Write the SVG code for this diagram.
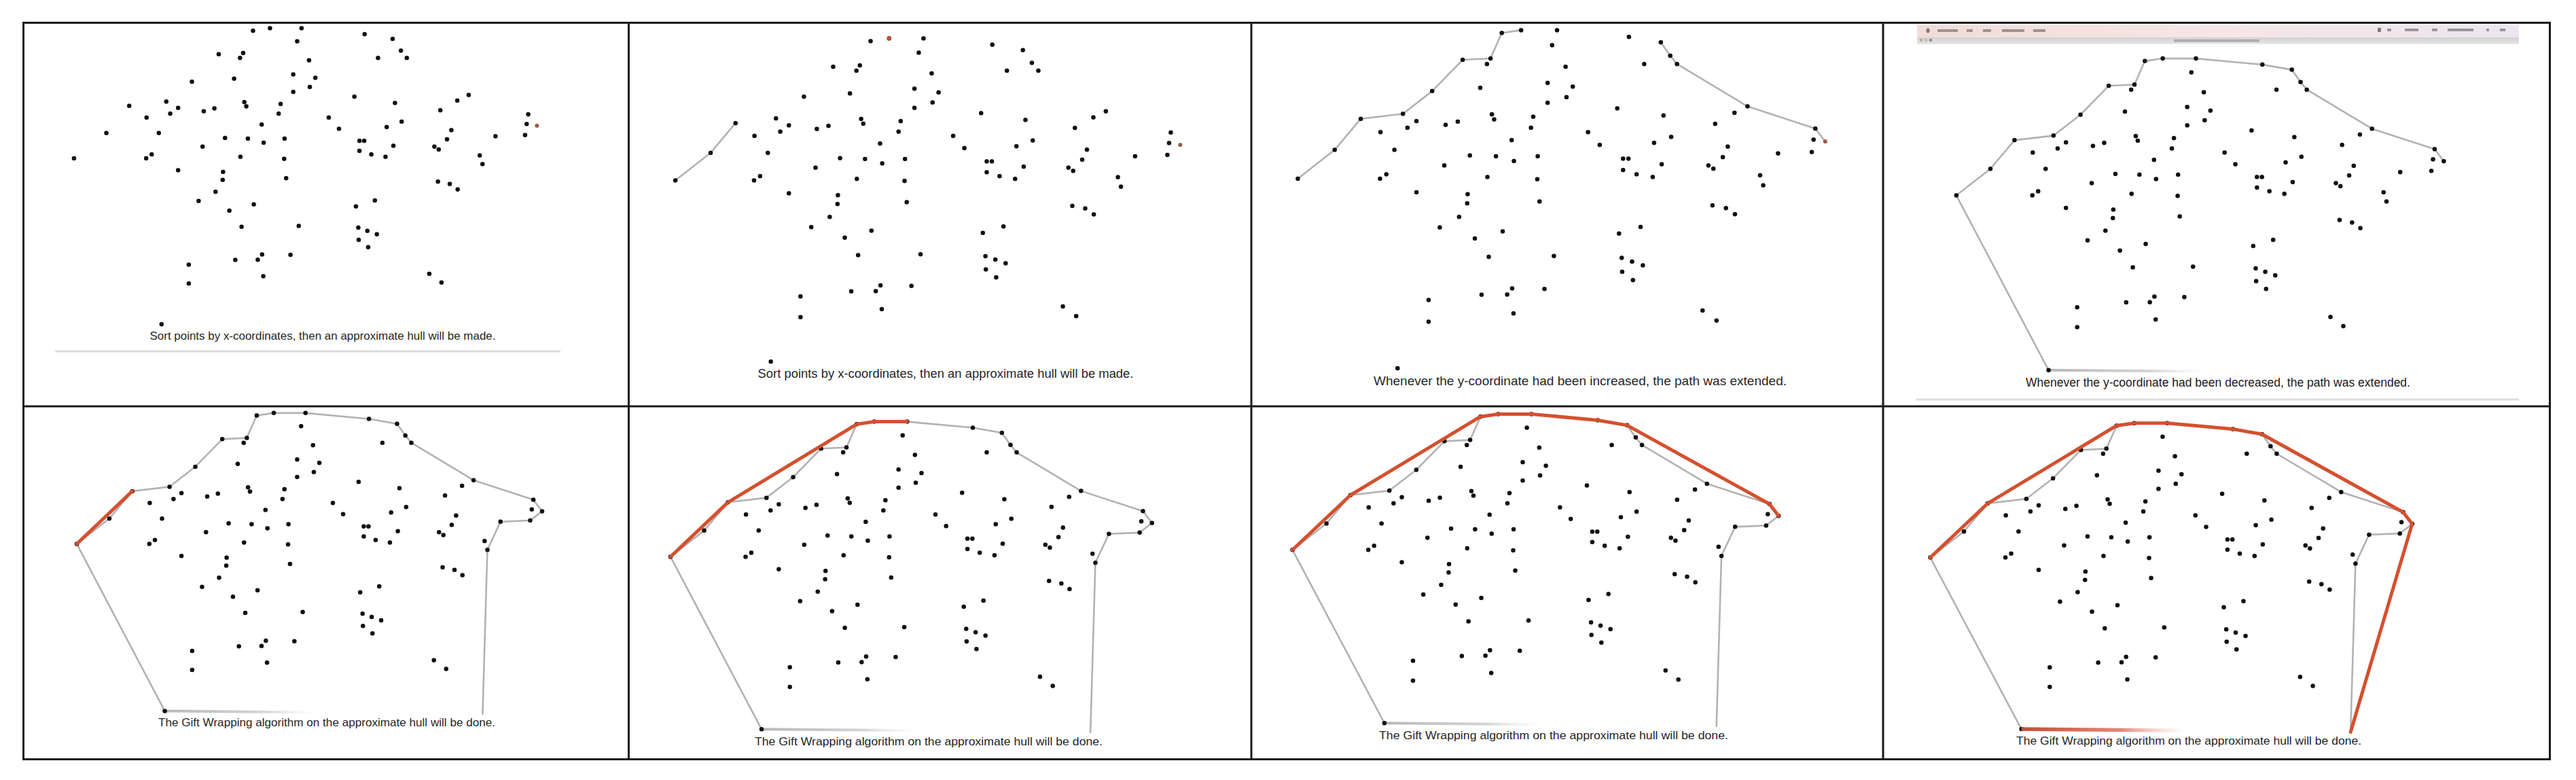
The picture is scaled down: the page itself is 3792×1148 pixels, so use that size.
<svg xmlns="http://www.w3.org/2000/svg" xmlns:xlink="http://www.w3.org/1999/xlink" width="3792" height="1148" viewBox="0 0 3792 1148">
<style>
.pts{fill:none;stroke:#111;stroke-width:6.5;stroke-linecap:round;vector-effect:non-scaling-stroke}
.hot{fill:none;stroke:#9a5a4a;stroke-width:6;stroke-linecap:round;vector-effect:non-scaling-stroke}
.hull{fill:none;stroke:#b2b2b2;stroke-width:2.6;stroke-linejoin:round;stroke-linecap:round;vector-effect:non-scaling-stroke}
.fade{fill:none;stroke:url(#fadeGrey);stroke-width:4;vector-effect:non-scaling-stroke}
.red{fill:none;stroke:#d4502f;stroke-width:5;stroke-linejoin:round;stroke-linecap:round;vector-effect:non-scaling-stroke}
.redfade{fill:none;stroke:url(#fadeRed);stroke-width:5.5;vector-effect:non-scaling-stroke}
.cap{font-family:"Liberation Sans",Arial,sans-serif;fill:#262626;text-anchor:middle}
.grid{fill:none;stroke:#1a1a1a;stroke-width:3}
.rule{stroke:#dcdcdc;stroke-width:3}
</style>
<defs>
<linearGradient id="fadeGrey" gradientUnits="userSpaceOnUse" x1="358" y1="1258" x2="1160" y2="1270">
<stop offset="0" stop-color="#b8b8b8"/><stop offset="0.3" stop-color="#c8c8c8" stop-opacity="0.8"/><stop offset="0.47" stop-color="#dddddd" stop-opacity="0"/>
</linearGradient>
<linearGradient id="fadeRed" gradientUnits="userSpaceOnUse" x1="358" y1="1258" x2="1160" y2="1270">
<stop offset="0" stop-color="#c94a35"/><stop offset="0.3" stop-color="#d86a55" stop-opacity="0.8"/><stop offset="0.5" stop-color="#f0b0a0" stop-opacity="0"/>
</linearGradient>
<linearGradient id="menuPink" x1="0" y1="0" x2="1" y2="0">
<stop offset="0" stop-color="#f2dcd8"/><stop offset="0.5" stop-color="#f6e6e6"/><stop offset="1" stop-color="#ece6f0"/>
</linearGradient>
<linearGradient id="menuGrey" x1="0" y1="0" x2="0" y2="1">
<stop offset="0" stop-color="#d2d2d2"/><stop offset="1" stop-color="#e6e6e6"/>
</linearGradient>
<path id="pts" class="pts" d="M590 48h.1M633 38h.1M713 38h.1M702 92h.1M873 62h.1M944 82h.1M965 130h.1M980 160h.1M907 160h.1M503 145h.1M557 160h.1M565 140h.1M732 170h.1M692 228h.1M748 242h.1M734 280h.1M692 300h.1M435 258h.1M542 246h.1M847 320h.1M950 346h.1M1108 336h.1M1137 313h.1M1065 376h.1M276 358h.1M370 340h.1M400 366h.1M380 390h.1M465 380h.1M492 368h.1M568 342h.1M573 360h.1M660 350h.1M655 390h.1M320 406h.1M782 406h.1M808 452h.1M612 435h.1M967 423h.1M929 445h.1M1288 393h.1M1284 433h.1M1280 478h.1M1205 483h.1M1093 458h.1M1082 496h.1M218 470h.1M351 470h.1M519 490h.1M577 493h.1M617 510h.1M670 493h.1M860 502h.1M872 502h.1M946 522h.1M1050 526h.1M1061 538h.1M462 526h.1M136 574h.1M319 574h.1M333 558h.1M558 568h.1M669 576h.1M860 543h.1M890 558h.1M926 568h.1M1165 562h.1M1172 598h.1M400 623h.1M514 630h.1M513 663h.1M674 656h.1M1059 670h.1M1089 680h.1M1109 702h.1M495 712h.1M452 750h.1M592 764h.1M530 790h.1M851 772h.1M899 748h.1M561 856h.1M706 853h.1M857 860h.1M880 873h.1M904 887h.1M858 910h.1M882 940h.1M427 1012h.1M545 993h.1M602 992h.1M613 970h.1M685 972h.1M427 1090h.1M616 1060h.1M1037 1050h.1M1068 1086h.1M358 1258h.1"/>
<path id="ptRight" class="hot" d="M1310 440h.1"/>
<path id="ptRightDark" class="pts" d="M1310 440h.1"/>
<path id="hullLeft" class="hull" d="M136 574L218 470L276 358L370 340L435 258L503 145L565 140L590 48L633 38L713 38"/>
<path id="hullTop" class="hull" d="M713 38L873 62L944 82L965 130L980 160L1137 313L1288 393L1310 440"/>
<path id="hullRightIn" class="hull" d="M1310 440L1280 478L1205 483L1172 598L1160 1270"/>
<path id="hullBottom" class="hull" d="M136 574L358 1258"/>
<path id="fadeBottom" class="fade" d="M358 1258L1160 1270"/>
</defs>

<rect width="3792" height="1148" fill="#ffffff"/>

<g id="panel1">
<g transform="matrix(0.5804 0 0 0.3571 30 28)">
<use href="#pts"/>
<use href="#ptRight"/>
</g>
<text class="cap" x="475" y="499.5" font-size="16.5" textLength="509" lengthAdjust="spacingAndGlyphs">Sort points by x-coordinates, then an approximate hull will be made.</text>
<line class="rule" x1="81" y1="517" x2="825" y2="517"/>
</g>

<g id="panel2">
<g transform="matrix(0.6331 0 0 0.3899 908 41.7)">
<path class="hull" d="M136 574L218 470L276 358"/>
<use href="#pts"/>
<use href="#ptRight"/>
<path class="hot" d="M633 38h.1" style="stroke:#c0503a"/>
</g>
<text class="cap" x="1392" y="556" font-size="17.5" textLength="553" lengthAdjust="spacingAndGlyphs">Sort points by x-coordinates, then an approximate hull will be made.</text>
</g>

<g id="panel3">
<g transform="matrix(0.6613 0 0 0.4078 1820.5 28.9)">
<path class="hull" d="M136 574L218 470L276 358L370 340L435 258L503 145L565 140L590 48L633 38"/>
<path class="hull" d="M944 82L965 130L980 160L1137 313L1288 393L1310 440"/>
<use href="#pts"/>
<use href="#ptRight"/>
</g>
<text class="cap" x="2326" y="566.5" font-size="18.5" textLength="608" lengthAdjust="spacingAndGlyphs">Whenever the y-coordinate had been increased, the path was extended.</text>
</g>

<g id="panel4">
<rect x="2822" y="37" width="886" height="18" fill="url(#menuPink)"/>
<rect x="2822" y="55" width="886" height="10" fill="url(#menuGrey)"/>
<g fill="#555" opacity="0.55">
<ellipse cx="2838" cy="45" rx="2.5" ry="3.5" fill="#222"/>
<rect x="2852" y="43" width="30" height="4"/>
<rect x="2895" y="43" width="9" height="4"/>
<rect x="2919" y="43" width="12" height="4"/>
<rect x="2947" y="43" width="33" height="4"/>
<rect x="2993" y="43" width="18" height="4"/>
<rect x="3200" y="58" width="126" height="4" opacity="0.6"/>
<rect x="2826" y="57" width="4" height="4" fill="#a87"/>
<rect x="2833" y="57" width="4" height="4" fill="#aa8"/>
<rect x="2840" y="57" width="4" height="4"/>
<rect x="3500" y="41" width="5" height="6" fill="#222"/>
<rect x="3514" y="42" width="6" height="4"/>
<rect x="3540" y="42" width="20" height="4"/>
<rect x="3580" y="42" width="8" height="4"/>
<rect x="3603" y="42" width="38" height="4"/>
<rect x="3660" y="42" width="4" height="4"/>
<rect x="3680" y="42" width="8" height="4"/>
</g>
<g transform="matrix(0.6112 0 0 0.3759 2796.7 71.8)">
<use href="#hullLeft"/>
<use href="#hullTop"/>
<use href="#hullBottom"/>
<use href="#fadeBottom"/>
<use href="#pts"/>
<use href="#ptRightDark"/>
</g>
<text class="cap" x="3265" y="569" font-size="17.5" textLength="566" lengthAdjust="spacingAndGlyphs" style="fill:#1a1a1a">Whenever the y-coordinate had been decreased, the path was extended.</text>
<line class="rule" x1="2821" y1="588" x2="3708" y2="588"/>
</g>

<g id="panel5">
<g transform="matrix(0.5834 0 0 0.3595 33.7 594.2)">
<use href="#hullLeft"/>
<use href="#hullTop"/>
<use href="#hullRightIn"/>
<use href="#hullBottom"/>
<use href="#fadeBottom"/>
<use href="#pts"/>
<use href="#ptRightDark"/>
<path class="red" d="M136 574L276 358"/>
</g>
<text class="cap" x="481" y="1068.5" font-size="16.5" textLength="496" lengthAdjust="spacingAndGlyphs">The Gift Wrapping algorithm on the approximate hull will be done.</text>
</g>

<g id="panel6">
<g transform="matrix(0.6037 0 0 0.371 904.9 606.5)">
<use href="#hullLeft"/>
<use href="#hullTop"/>
<use href="#hullRightIn"/>
<use href="#hullBottom"/>
<use href="#fadeBottom"/>
<use href="#pts"/>
<use href="#ptRightDark"/>
<path class="red" d="M136 574L276 358L590 48L633 38L713 38"/>
</g>
<text class="cap" x="1367" y="1096.5" font-size="17" textLength="512" lengthAdjust="spacingAndGlyphs">The Gift Wrapping algorithm on the approximate hull will be done.</text>
</g>

<g id="panel7">
<g transform="matrix(0.6095 0 0 0.3728 1819.7 595.3)">
<use href="#hullLeft"/>
<use href="#hullTop"/>
<use href="#hullRightIn"/>
<use href="#hullBottom"/>
<use href="#fadeBottom"/>
<use href="#pts"/>
<use href="#ptRightDark"/>
<path class="red" d="M136 574L276 358L590 48L633 38L713 38L873 62L944 82L1288 393L1310 440"/>
</g>
<text class="cap" x="2287" y="1088" font-size="17" textLength="514" lengthAdjust="spacingAndGlyphs">The Gift Wrapping algorithm on the approximate hull will be done.</text>
</g>

<g id="panel8">
<g transform="matrix(0.6042 0 0 0.3691 2759.3 608.7)">
<use href="#hullLeft"/>
<use href="#hullTop"/>
<use href="#hullRightIn"/>
<use href="#hullBottom"/>
<use href="#pts"/>
<use href="#ptRightDark"/>
<path class="red" d="M136 574L276 358L590 48L633 38L713 38L873 62L944 82L1288 393L1310 440L1160 1270"/>
<path class="redfade" d="M358 1258L1160 1270"/>
</g>
<text class="cap" x="3222" y="1096" font-size="17" textLength="508" lengthAdjust="spacingAndGlyphs">The Gift Wrapping algorithm on the approximate hull will be done.</text>
</g>

<g id="frame">
<rect class="grid" x="34.5" y="33.5" width="3719" height="1084"/>
<line class="grid" x1="925.5" y1="33.5" x2="925.5" y2="1117.5"/>
<line class="grid" x1="1842" y1="33.5" x2="1842" y2="1117.5"/>
<line class="grid" x1="2772" y1="33.5" x2="2772" y2="1117.5"/>
<line class="grid" x1="34.5" y1="598" x2="3753.5" y2="598"/>
</g>
</svg>
